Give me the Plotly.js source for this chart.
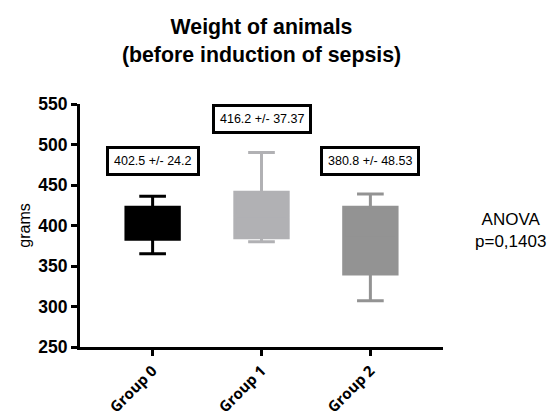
<!DOCTYPE html>
<html>
<head>
<meta charset="utf-8">
<script src="https://cdn.plot.ly/plotly-3.0.1.min.js"></script>
<style>html,body{margin:0;padding:0;background:#fff;}#chart{width:560px;height:416px;}</style>
</head>
<body>
<div id="chart"></div>
<script>
var groups = ["Group 0", "Group 1", "Group 2"];
var q1 = [383, 385, 340];
var median = [402, 412, 385];
var q3 = [422.6, 441, 422.6];
var lowerFence = [365, 380, 307];
var upperFence = [436, 490, 439];
var colors = ["#000000", "#b1b1b4", "#939393"];
var summaryLabels = ["402.5 +/- 24.2", "416.2 +/- 37.37", "380.8 +/- 48.53"];
var labelY = [480, 532, 480];
var yTicks = [250, 300, 350, 400, 450, 500, 550];

var traces = groups.map(function (g, i) {
  return {
    type: "box",
    x: [g],
    q1: [q1[i]],
    median: [median[i]],
    q3: [q3[i]],
    lowerfence: [lowerFence[i]],
    upperfence: [upperFence[i]],
    fillcolor: colors[i],
    line: {color: colors[i], width: 3},
    whiskerwidth: 0.5,
    boxpoints: false,
    showlegend: false,
    hoverinfo: "skip"
  };
});

var annotations = groups.map(function (g, i) {
  return {
    x: g, y: labelY[i], xref: "x", yref: "y",
    text: summaryLabels[i], showarrow: false,
    font: {family: "Liberation Sans, Arial, sans-serif", size: 12.5, color: "#000"},
    bordercolor: "#000", borderwidth: 3, borderpad: 5, bgcolor: "#fff"
  };
});
annotations.push({
  x: (510 - 80) / (443 - 80), y: (347 - 230) / (347 - 104),
  xref: "paper", yref: "paper",
  xanchor: "center", yanchor: "middle",
  text: "ANOVA<br>p=0,1403", showarrow: false,
  font: {family: "Liberation Sans, Arial, sans-serif", size: 17, color: "#000"}
});

var layout = {
  width: 560, height: 416,
  margin: {l: 80, r: 117, t: 104, b: 69},
  paper_bgcolor: "#fff", plot_bgcolor: "#fff",
  title: {
    text: "<b>Weight of animals<br>(before induction of sepsis)</b>",
    font: {family: "Liberation Sans, Arial, sans-serif", size: 21.3, color: "#000"},
    x: 0.5, xref: "paper", y: 1 - 34 / 416, yref: "container", yanchor: "middle"
  },
  xaxis: {
    type: "category",
    range: [-0.667, 2.667],
    showline: true, linecolor: "#000", linewidth: 3,
    ticks: "outside", ticklen: 6, tickwidth: 3, tickcolor: "#000",
    tickangle: -45,
    tickfont: {family: "Open Sans, Liberation Sans, sans-serif", size: 15, color: "#000", weight: "bold"},
    showgrid: false, zeroline: false, fixedrange: true
  },
  yaxis: {
    range: [250, 550],
    tickvals: yTicks,
    ticktext: yTicks.map(function (v) { return "<b>" + v + "</b>"; }),
    showline: true, linecolor: "#000", linewidth: 3,
    ticks: "outside", ticklen: 6, tickwidth: 3, tickcolor: "#000",
    tickfont: {family: "Liberation Sans, Arial, sans-serif", size: 17.5, color: "#000"},
    showgrid: false, zeroline: false,
    title: {text: "grams", font: {family: "Liberation Sans, Arial, sans-serif", size: 16, color: "#000"}, standoff: 4}
  },
  annotations: annotations
};

Plotly.newPlot("chart", traces, layout, {displayModeBar: false, staticPlot: true});
</script>
</body>
</html>
